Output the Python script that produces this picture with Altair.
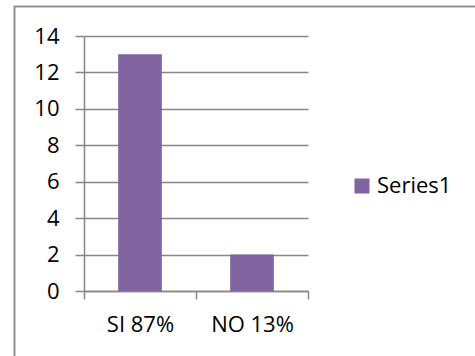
import altair as alt
import pandas as pd

categories = ["SI 87%", "NO 13%"]
values = [13, 2]
series = ["Series1", "Series1"]

df = pd.DataFrame({"cat": categories, "val": values, "series": series})

GRAY = "#878787"
FONT = "Open Sans"
FS = 22

bars = alt.Chart(df).mark_bar(width=alt.RelativeBandSize(0.39)).encode(
    x=alt.X("cat:N", sort=categories, title=None,
            scale=alt.Scale(paddingInner=0, paddingOuter=0),
            axis=alt.Axis(labelAngle=0, tickBand="extent", grid=False,
                          domainColor=GRAY, tickColor=GRAY, tickSize=8,
                          labelPadding=15, labelFontSize=FS, labelFont=FONT,
                          labelColor="#000000", domainWidth=1.5, tickWidth=1.5)),
    y=alt.Y("val:Q", title=None,
            scale=alt.Scale(domain=[0, 14]),
            axis=alt.Axis(values=[0, 2, 4, 6, 8, 10, 12, 14], grid=True,
                          gridColor=GRAY, gridWidth=1.5, domainColor=GRAY,
                          tickColor=GRAY, tickSize=9, labelPadding=16,
                          labelFontSize=FS, labelFont=FONT, labelColor="#000000",
                          domainWidth=1.5, tickWidth=1.5, format="d")),
    color=alt.Color("series:N", scale=alt.Scale(range=["#8064A2"]),
                    legend=alt.Legend(title=None, orient="none", legendX=267,
                                      legendY=139, symbolType="square",
                                      symbolSize=225, symbolStrokeWidth=0,
                                      labelFontSize=FS, labelFont=FONT,
                                      labelColor="#000000", labelOffset=4,
                                      padding=0)),
)

border = alt.Chart(df).mark_rect(fill=None, stroke="#8a8a8a", strokeWidth=1.5).encode(
    x=alt.value(-69.5), x2=alt.value(500), y=alt.value(-29.5), y2=alt.value(400)
)

chart = alt.layer(border, bars).properties(
    width=224, height=255,
    autosize=alt.AutoSizeParams(type="none"),
    padding={"left": 84, "top": 36, "right": 167, "bottom": 65},
).configure_view(stroke=None)

chart.save("out.html", embed_options={"renderer": "svg", "actions": False})
